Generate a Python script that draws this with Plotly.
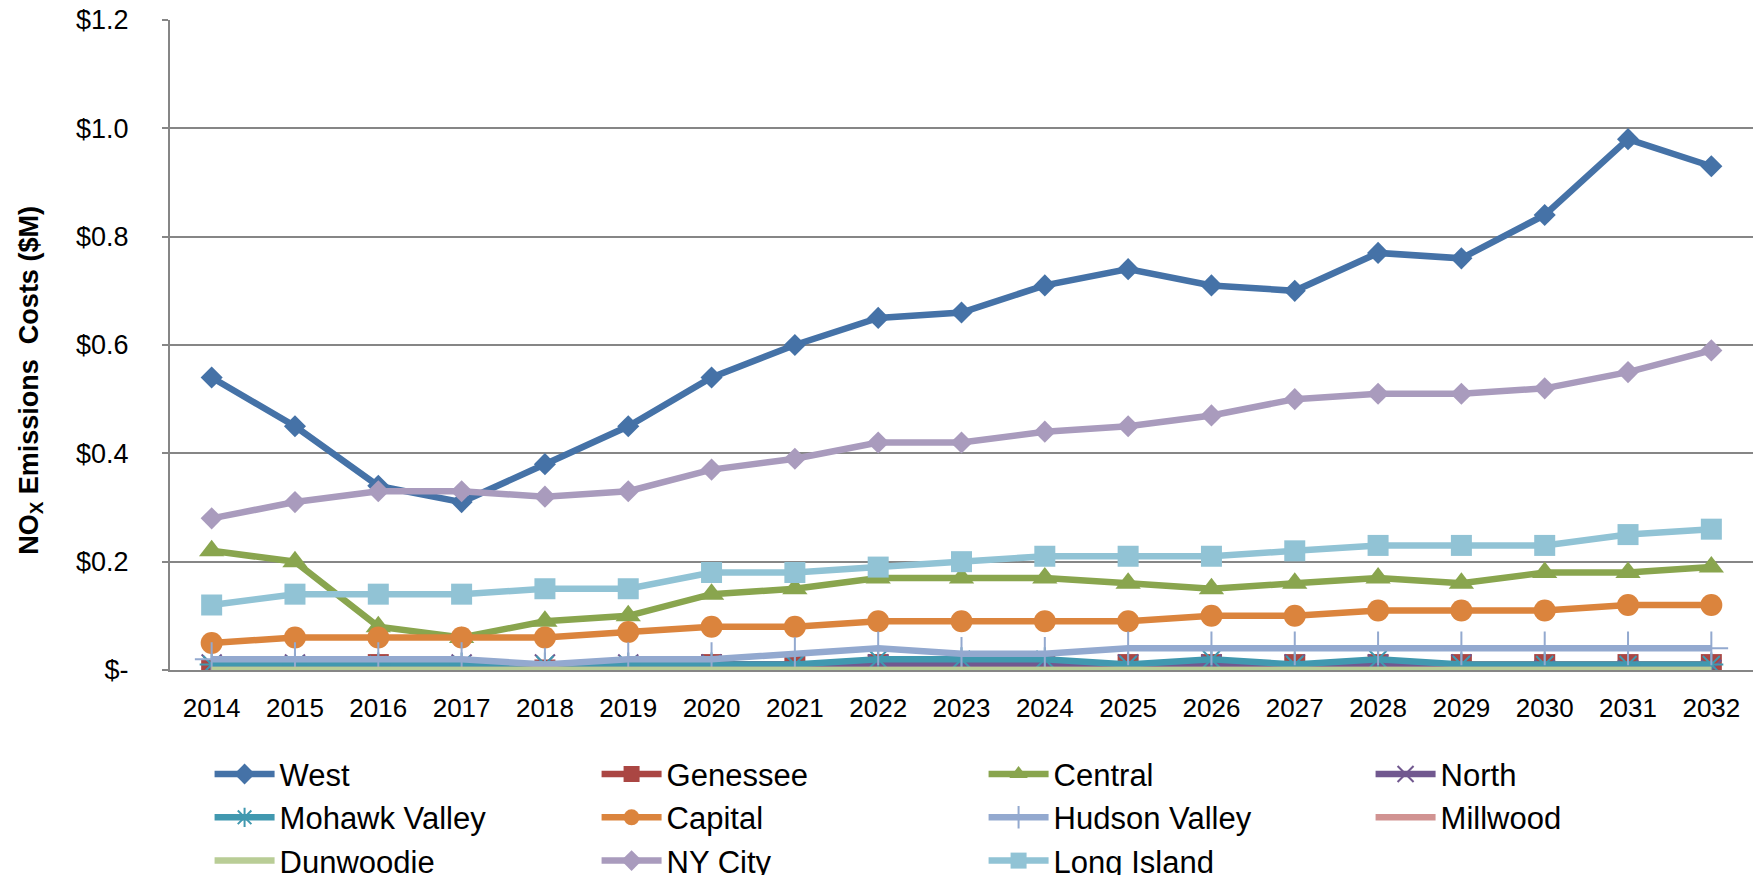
import plotly.graph_objects as go

years = [str(y) for y in range(2014, 2033)]

west = [0.54, 0.45, 0.34, 0.31, 0.38, 0.45, 0.54, 0.60, 0.65, 0.66, 0.71, 0.74, 0.71, 0.70, 0.77, 0.76, 0.84, 0.98, 0.93]
genessee = [0.0, 0.0, 0.01, 0.0, 0.0, 0.0, 0.01, 0.01, 0.01, 0.01, 0.01, 0.01, 0.01, 0.01, 0.01, 0.01, 0.01, 0.01, 0.01]
central = [0.22, 0.20, 0.08, 0.06, 0.09, 0.10, 0.14, 0.15, 0.17, 0.17, 0.17, 0.16, 0.15, 0.16, 0.17, 0.16, 0.18, 0.18, 0.19]
north = [0.01, 0.01, 0.0, 0.01, 0.01, 0.01, 0.01, 0.01, 0.01, 0.01, 0.01, 0.01, 0.01, 0.01, 0.01, 0.01, 0.0, 0.0, 0.0]
mohawk = [0.01, 0.01, 0.01, 0.01, 0.01, 0.01, 0.01, 0.01, 0.02, 0.02, 0.02, 0.01, 0.02, 0.01, 0.02, 0.01, 0.01, 0.01, 0.01]
capital = [0.05, 0.06, 0.06, 0.06, 0.06, 0.07, 0.08, 0.08, 0.09, 0.09, 0.09, 0.09, 0.10, 0.10, 0.11, 0.11, 0.11, 0.12, 0.12]
hudson = [0.02, 0.02, 0.02, 0.02, 0.01, 0.02, 0.02, 0.03, 0.04, 0.03, 0.03, 0.04, 0.04, 0.04, 0.04, 0.04, 0.04, 0.04, 0.04]
millwood = [0.0] * 19
dunwoodie = [0.0] * 19
nycity = [0.28, 0.31, 0.33, 0.33, 0.32, 0.33, 0.37, 0.39, 0.42, 0.42, 0.44, 0.45, 0.47, 0.50, 0.51, 0.51, 0.52, 0.55, 0.59]
longisland = [0.12, 0.14, 0.14, 0.14, 0.15, 0.15, 0.18, 0.18, 0.19, 0.20, 0.21, 0.21, 0.21, 0.22, 0.23, 0.23, 0.23, 0.25, 0.26]

ytickvals = [0, 0.2, 0.4, 0.6, 0.8, 1.0, 1.2]
yticktext = ["$-", "$0.2", "$0.4", "$0.6", "$0.8", "$1.0", "$1.2"]

FONT = "Liberation Sans, Arial, sans-serif"

series = [
    ("West", west, "#4572A7", "diamond", 17, 0),
    ("Genessee", genessee, "#AA4643", "square", 21, 0),
    ("Central", central, "#89A54E", "triangle-up", 22, 0),
    ("North", north, "#71588F", "x-thin-open", 20, 2),
    ("Mohawk Valley", mohawk, "#4198AF", "asterisk-open", 20, 2),
    ("Capital", capital, "#DB843D", "circle", 22, 0),
    ("Hudson Valley", hudson, "#93A9CF", "cross-thin-open", 24, 2),
    ("Millwood", millwood, "#D19392", None, 0, 0),
    ("Dunwoodie", dunwoodie, "#B9CD96", None, 0, 0),
    ("NY City", nycity, "#A99BBD", "diamond", 17, 0),
    ("Long Island", longisland, "#91C3D5", "square", 21, 0),
]

fig = go.Figure()
for name, vals, color, sym, size, lw in series:
    if sym is None:
        fig.add_trace(go.Scatter(x=years, y=vals, name=name, mode="lines",
                                 line=dict(color=color, width=6.5)))
    else:
        fig.add_trace(go.Scatter(
            x=years, y=vals, name=name, mode="lines+markers",
            line=dict(color=color, width=6.5),
            marker=dict(symbol=sym, size=size, color=color,
                        line=dict(color=color, width=lw if lw else 0))))

fig.update_layout(
    width=1759, height=875,
    margin=dict(l=170, r=6, t=20, b=205, autoexpand=False),
    paper_bgcolor="white", plot_bgcolor="white",
    font=dict(family=FONT, size=26, color="black"),
    showlegend=True,
    legend=dict(orientation="h", x=0.025, xanchor="left", y=-0.119, yanchor="top",
                font=dict(family=FONT, size=31, color="black"),
                entrywidth=312, entrywidthmode="pixels", itemwidth=60,
                tracegroupgap=0, bgcolor="rgba(0,0,0,0)"),
    xaxis=dict(type="category", showgrid=False, showline=True, linecolor="#868686",
               linewidth=2, ticks="", tickfont=dict(size=26, family=FONT),
               ticklabelstandoff=14, range=[-0.5, 18.5], fixedrange=True),
    yaxis=dict(range=[0, 1.2], tickvals=ytickvals, ticktext=yticktext,
               showgrid=True, gridcolor="#868686", gridwidth=2,
               showline=True, linecolor="#868686", linewidth=2,
               ticks="outside", ticklen=6, tickcolor="#868686", tickwidth=2,
               tickfont=dict(size=27, family=FONT), ticklabelstandoff=28,
               zeroline=False),
    annotations=[dict(text="<b>NO<sub>X</sub> Emissions\u00a0 Costs ($M)</b>",
                      xref="paper", yref="paper", x=-0.088, y=0.446,
                      xanchor="center", yanchor="middle", textangle=-90,
                      showarrow=False, font=dict(family=FONT, size=27, color="black"))],
)

fig.write_html("out.html",
               config={"displayModeBar": False},
               post_script="document.body.style.margin='0';document.body.style.overflow='hidden';")
